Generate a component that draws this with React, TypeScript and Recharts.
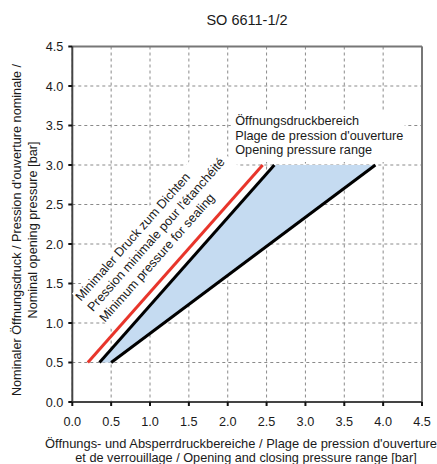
import { ComposedChart, Scatter, XAxis, YAxis, CartesianGrid, ReferenceLine } from 'recharts';

const FONT = '"Liberation Sans", Arial, sans-serif';

const xTicks = [0, 0.5, 1, 1.5, 2, 2.5, 3, 3.5, 4, 4.5];
const yTicks = [0, 0.5, 1, 1.5, 2, 2.5, 3, 3.5, 4, 4.5];

// minimum pressure for sealing (red)
const minSealing = [
  { x: 0.2, y: 0.5 },
  { x: 2.45, y: 3.0 },
];
// opening pressure range, upper and lower boundary
const rangeUpper = [
  { x: 0.35, y: 0.5 },
  { x: 2.6, y: 3.0 },
];
const rangeLower = [
  { x: 0.5, y: 0.5 },
  { x: 3.9, y: 3.0 },
];
// corners of the shaded range
const rangeArea = [
  { x: 0.35, y: 0.5 },
  { x: 0.5, y: 0.5 },
  { x: 3.9, y: 3.0 },
  { x: 2.6, y: 3.0 },
];
// anchor points of the two annotations
const sealingAnchor = [{ x: 0.112, y: 1.27 }];
const rangeAnchor = [{ x: 2.0, y: 3.5 }];

const sealingLabel = ['Minimaler Druck zum Dichten', "Pression minimale pour l'étanchéité", 'Minimum pressure for sealing'];
const rangeLabel = ['Öffnungsdruckbereich', "Plage de pression d'ouverture", 'Opening pressure range'];
const xTitle = ["Öffnungs- und Absperrdruckbereiche / Plage de pression d'ouverture", 'et de verrouillage / Opening and closing pressure range [bar]'];
const yTitle = ["Nominaler Öffnungsdruck / Pression d'ouverture nominale /", 'Nominal opening pressure [bar]'];
const title = 'SO 6611-1/2';

function pathOf(points: { x: number; y: number }[], closed: boolean) {
  return points.map((p, i) => `${i === 0 ? 'M' : 'L'}${p.x},${p.y}`).join(' ') + (closed ? ' Z' : '');
}

const noDot = () => <g />;

function SealingText({ cx, cy }: any) {
  return (
    <g transform={`translate(${cx},${cy}) rotate(-48.5)`}>
      <rect x={0} y={-12} width={206} height={66} fill="#fff" />
      {sealingLabel.map((t, i) => (
        <text key={i} x={0} y={i * 16} fontSize={12.7} fontFamily={FONT} fill="#1a1a1a">
          {t}
        </text>
      ))}
    </g>
  );
}

function RangeText({ cx, cy }: any) {
  return (
    <g>
      <rect x={cx + 3} y={cy - 15.5} width={174} height={52} fill="#fff" />
      {rangeLabel.map((t, i) => (
        <text key={i} x={cx + 7.5} y={cy - 0.5 + i * 14.7} fontSize={12.7} fontFamily={FONT} fill="#1a1a1a">
          {t}
        </text>
      ))}
    </g>
  );
}

function YTitle() {
  return (
    <g>
      <text x={247} y={25} textAnchor="middle" fontSize={14.5} fontFamily={FONT} fill="#1a1a1a">
        {title}
      </text>
      {yTitle.map((t, i) => (
        <text
          key={i}
          x={0}
          y={0}
          transform={`translate(${21 + i * 15.5},230) rotate(-90)`}
          textAnchor="middle"
          fontSize={12.7}
          fontFamily={FONT}
          fill="#1a1a1a"
        >
          {t}
        </text>
      ))}
    </g>
  );
}

function XTitle() {
  return (
    <g>
      <text x={45} y={447.5} fontSize={12.9} fontFamily={FONT} fill="#1a1a1a">
        {xTitle[0]}
      </text>
      <text x={246} y={461.5} textAnchor="middle" fontSize={12.7} fontFamily={FONT} fill="#1a1a1a">
        {xTitle[1]}
      </text>
    </g>
  );
}

const tickStyle = { fontSize: 12.7, fontFamily: FONT, fill: '#1a1a1a' };

function boundary(color: string) {
  return (p: any) => <path d={pathOf(p.points, false)} fill="none" stroke={color} strokeWidth={3} />;
}

export default function App() {
  return (
    <div style={{ position: 'absolute', left: 0, top: 0 }}>
      <ComposedChart width={437} height={464} margin={{ top: 46.5, right: 15, bottom: 32, left: 22.3 }}>
        <CartesianGrid stroke="#8a8a8a" strokeDasharray="3 3" horizontalValues={yTicks} verticalValues={xTicks} />
        <XAxis
          type="number"
          dataKey="x"
          domain={[0, 4.5]}
          ticks={xTicks}
          tickFormatter={(v: number) => v.toFixed(1)}
          tick={tickStyle}
          tickSize={4}
          tickMargin={11}
          height={30}
          axisLine={{ stroke: '#444', strokeWidth: 2 }}
          tickLine={{ stroke: '#111', strokeWidth: 2 }}
          label={XTitle}
        />
        <YAxis
          type="number"
          dataKey="y"
          domain={[0, 4.5]}
          ticks={yTicks}
          tickFormatter={(v: number) => v.toFixed(1)}
          tick={tickStyle}
          tickSize={4}
          tickMargin={5}
          width={50}
          axisLine={{ stroke: '#444', strokeWidth: 2 }}
          tickLine={{ stroke: '#111', strokeWidth: 2 }}
          label={YTitle}
        />
        <ReferenceLine y={4.5} stroke="#777" strokeWidth={2} />
        <ReferenceLine x={4.5} stroke="#777" strokeWidth={2} />
        <Scatter
          data={rangeArea}
          isAnimationActive={false}
          shape={noDot}
          line={(p: any) => <path d={pathOf(p.points, true)} fill="#c5dbf1" stroke="none" />}
        />
        <Scatter data={sealingAnchor} isAnimationActive={false} shape={SealingText} />
        <Scatter data={rangeAnchor} isAnimationActive={false} shape={RangeText} />
        <Scatter data={minSealing} isAnimationActive={false} shape={noDot} line={boundary('#e8352b')} />
        <Scatter data={rangeUpper} isAnimationActive={false} shape={noDot} line={boundary('#000')} />
        <Scatter data={rangeLower} isAnimationActive={false} shape={noDot} line={boundary('#000')} />
      </ComposedChart>
    </div>
  );
}
